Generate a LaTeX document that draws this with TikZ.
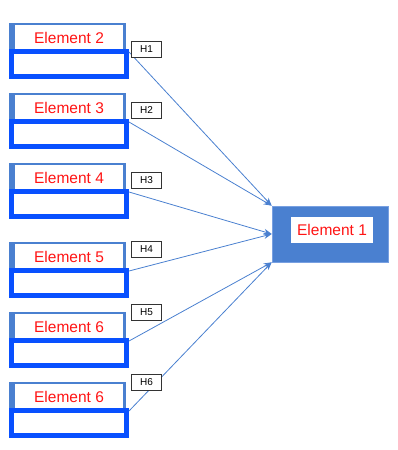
\documentclass[tikz,border=0pt]{standalone}
\usepackage{fontspec}
\setmainfont{Liberation Sans}
\usetikzlibrary{arrows.meta}
\definecolor{midblue}{RGB}{74,128,208}
\definecolor{brightblue}{RGB}{8,80,255}
\definecolor{labred}{RGB}{255,20,20}
\definecolor{edgeblue}{RGB}{120,160,225}
\tikzset{
  backbox/.style={rectangle, fill=midblue, inner sep=0pt, minimum width=117pt, minimum height=28pt},
  labbox/.style={rectangle, fill=white, inner sep=0pt, minimum width=108pt, minimum height=25pt,
    text=labred, font=\fontsize{15.5}{18}\selectfont},
  framebox/.style={rectangle, draw=brightblue, line width=5pt, fill=white, inner sep=0pt,
    minimum width=115pt, minimum height=25pt},
  hbox/.style={rectangle, draw=black!80, line width=0.8pt, fill=white, inner sep=0pt,
    minimum width=30pt, minimum height=16pt, font=\fontsize{10}{12}\selectfont},
  conn/.style={draw=midblue, line width=0.8pt, -{Stealth[length=8pt,width=6pt]}},
}
\begin{document}
\begin{tikzpicture}[x=1pt,y=-1pt]
\useasboundingbox (0,0) rectangle (398,450);
\foreach \T/\lab/\n in {23/2/a,93/3/b,163/4/c,242/5/d,312/6/e,382/6/f}{
  \node[backbox] (bk\n) at (67.5,\T+14) {};
  \node[labbox] (lb\n) at (69,\T+14.5) {Element \lab};
  \node[framebox] (f\n) at (69,\T+41) {};
}
% target element
\node[rectangle, fill=midblue, draw=edgeblue, line width=0.6pt, inner sep=0pt,
  minimum width=116pt, minimum height=56pt] (e1) at (330,234) {};
\node[labbox, minimum width=82pt, minimum height=26pt] (l1) at (332,230) {Element 1};
% connectors
\draw[conn] ([yshift=-3pt]fa.north east) -- (e1.north west);
\draw[conn] ([yshift=-3pt]fb.north east) -- (e1.north west);
\draw[conn] ([yshift=-3pt]fc.north east) -- (e1.west);
\draw[conn] ([yshift=-3pt]fd.north east) -- (e1.west);
\draw[conn] ([yshift=-3pt]fe.north east) -- (e1.south west);
\draw[conn] ([yshift=-3pt]ff.north east) -- (e1.south west);
% hypothesis labels
\node[hbox] (h1) at (146.5,49.5) {H1};
\node[hbox] (h2) at (146.5,110.5) {H2};
\node[hbox] (h3) at (146.5,180.5) {H3};
\node[hbox] (h4) at (146.5,249.5) {H4};
\node[hbox] (h5) at (146.5,312) {H5};
\node[hbox] (h6) at (146.5,382.5) {H6};
\end{tikzpicture}
\end{document}
